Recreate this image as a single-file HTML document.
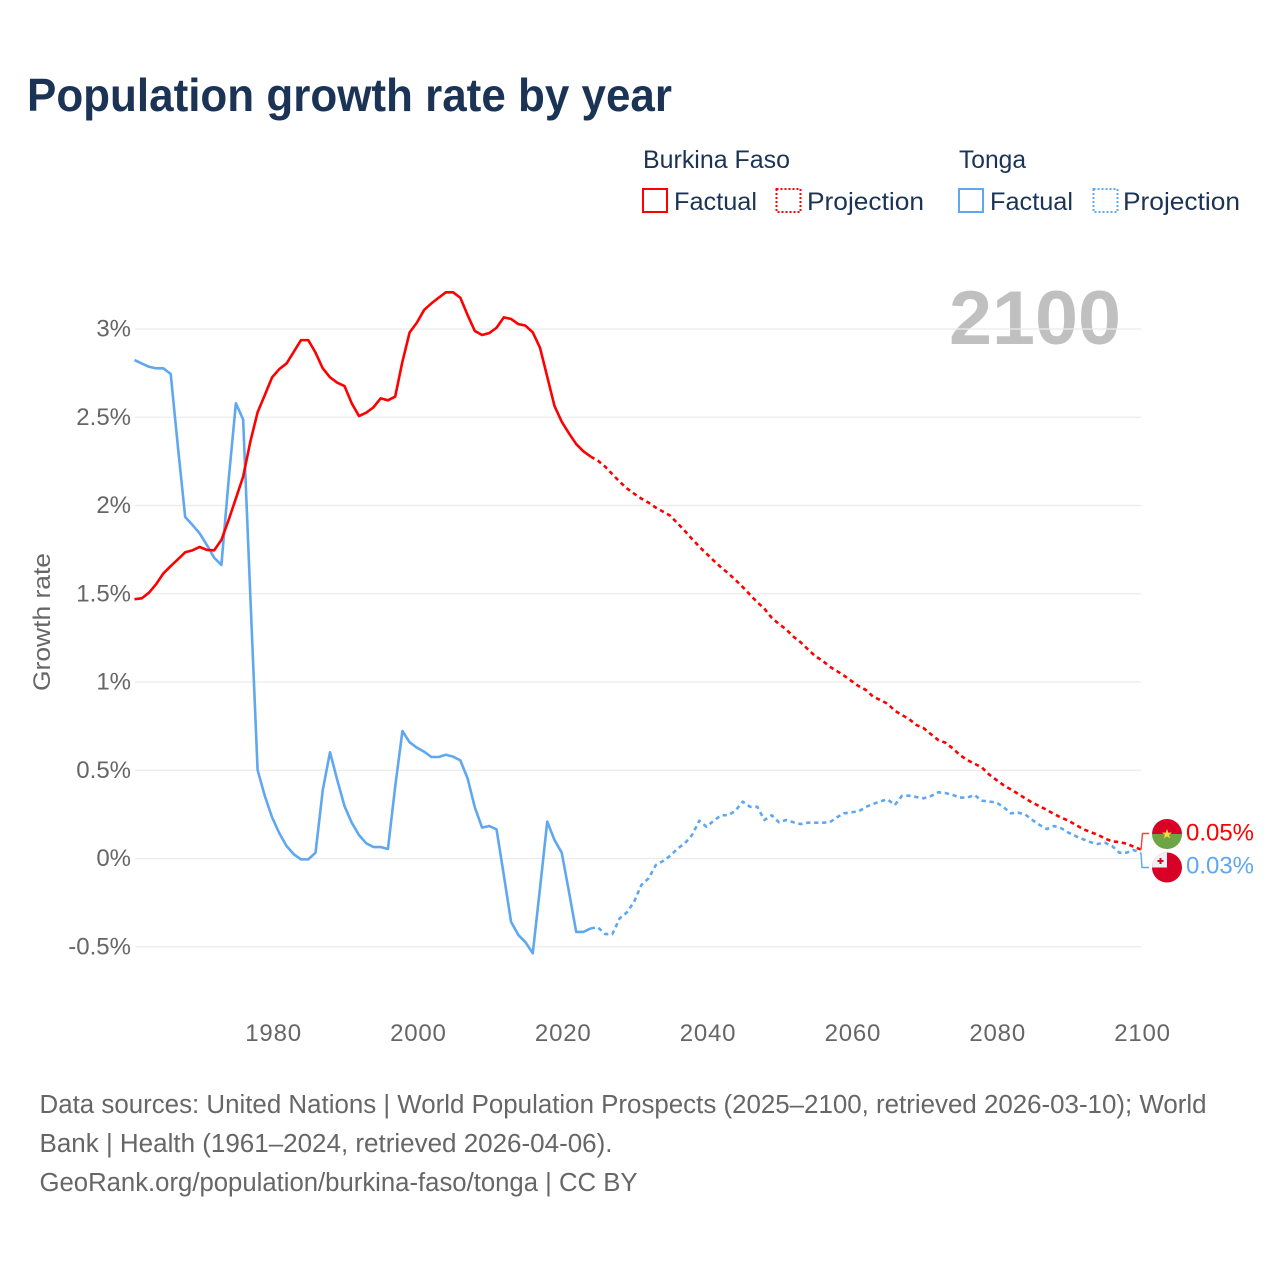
<!DOCTYPE html>
<html lang="en">
<head>
<meta charset="utf-8">
<title>Population growth rate by year</title>
<style>
html,body{margin:0;padding:0;background:#fff;width:1280px;height:1280px;overflow:hidden}
svg{display:block}
text{font-family:"Liberation Sans",sans-serif}
.tick{font-size:24px;fill:#666}
.legend{font-size:25px;fill:#1b3354}
.foot{font-size:25.5px;fill:#666}
</style>
</head>
<body>
<svg id="chart" width="1280" height="1280" viewBox="0 0 1280 1280" xmlns="http://www.w3.org/2000/svg">
  <text x="27" y="111" font-size="46" font-weight="bold" fill="#1b3354" textLength="645" lengthAdjust="spacingAndGlyphs">Population growth rate by year</text>

  <g>
    <text class="legend" x="643" y="168" textLength="147" lengthAdjust="spacingAndGlyphs">Burkina Faso</text>
    <text class="legend" x="959" y="168" textLength="67" lengthAdjust="spacingAndGlyphs">Tonga</text>
    <rect x="643" y="189" width="24" height="23" fill="none" stroke="#ff0000" stroke-width="2"/>
    <text class="legend" x="674" y="210" textLength="83" lengthAdjust="spacingAndGlyphs">Factual</text>
    <rect x="776.5" y="189" width="24" height="23" fill="none" stroke="#ff0000" stroke-width="2" stroke-dasharray="2 2"/>
    <text class="legend" x="807" y="210" textLength="117" lengthAdjust="spacingAndGlyphs">Projection</text>
    <rect x="959" y="189" width="24" height="23" fill="none" stroke="#5fa8ef" stroke-width="2"/>
    <text class="legend" x="990" y="210" textLength="83" lengthAdjust="spacingAndGlyphs">Factual</text>
    <rect x="1093.5" y="189" width="24" height="23" fill="none" stroke="#5fa8ef" stroke-width="2" stroke-dasharray="2 2"/>
    <text class="legend" x="1123" y="210" textLength="117" lengthAdjust="spacingAndGlyphs">Projection</text>
  </g>

  <text x="949" y="344" font-size="76" font-weight="bold" fill="#c0c0c0" textLength="172" lengthAdjust="spacingAndGlyphs">2100</text>

  <g id="grid"></g>
  <g id="yticks"></g>
  <g id="xticks"></g>
  <g id="series"></g>
  <g id="ends"></g>

  <text class="tick" transform="translate(50,622) rotate(-90)" text-anchor="middle" textLength="138" lengthAdjust="spacingAndGlyphs">Growth rate</text>

  <g>
    <text class="foot" x="39.5" y="1113" textLength="1167" lengthAdjust="spacingAndGlyphs">Data sources: United Nations | World Population Prospects (2025–2100, retrieved 2026-03-10); World</text>
    <text class="foot" x="39.5" y="1152" textLength="573" lengthAdjust="spacingAndGlyphs">Bank | Health (1961–2024, retrieved 2026-04-06).</text>
    <text class="foot" x="39.5" y="1191" textLength="598" lengthAdjust="spacingAndGlyphs">GeoRank.org/population/burkina-faso/tonga | CC BY</text>
  </g>
</svg>
<script>
const xTickYears = [1980, 2000, 2020, 2040, 2060, 2080, 2100];
const yTickValues = [-0.5, 0, 0.5, 1, 1.5, 2, 2.5, 3];
const yTickLabels = ["-0.5%", "0%", "0.5%", "1%", "1.5%", "2%", "2.5%", "3%"];
const factualStartYear = 1961;
const projectionStartYear = 2024;

const burkinaFactual = [
1.469,1.474,1.506,1.555,1.616,1.657,1.695,1.735,1.746,1.765,
1.748,1.746,1.805,1.918,2.04,2.163,2.362,2.528,2.626,2.726,
2.773,2.805,2.871,2.937,2.937,2.866,2.777,2.726,2.696,2.677,
2.579,2.507,2.526,2.556,2.607,2.596,2.617,2.815,2.981,3.036,
3.108,3.145,3.177,3.208,3.208,3.177,3.079,2.989,2.966,2.977,
3.007,3.066,3.057,3.028,3.019,2.981,2.894,2.73,2.564,2.475,
2.409,2.348,2.307,2.277];

const burkinaProjection = [
2.277,2.254,2.22,2.177,2.135,2.097,2.067,2.039,2.016,1.988,1.965,
1.942,1.899,1.856,1.81,1.767,1.727,1.687,1.65,1.616,1.578,
1.538,1.495,1.452,1.415,1.364,1.329,1.298,1.257,1.225,1.185,
1.147,1.121,1.087,1.062,1.036,1.006,0.977,0.955,0.917,0.898,
0.877,0.837,0.813,0.789,0.756,0.738,0.704,0.671,0.656,0.624,
0.586,0.558,0.537,0.517,0.477,0.446,0.416,0.392,0.367,0.341,
0.316,0.296,0.275,0.252,0.231,0.214,0.19,0.167,0.15,0.135,
0.114,0.097,0.093,0.084,0.067,0.05];

const tongaFactual = [
2.824,2.805,2.786,2.777,2.777,2.745,2.33,1.935,1.89,1.842,
1.776,1.704,1.663,2.144,2.579,2.488,1.483,0.501,0.354,0.233,
0.143,0.071,0.024,-0.005,-0.005,0.033,0.388,0.602,0.445,0.297,
0.203,0.133,0.086,0.065,0.065,0.054,0.407,0.722,0.658,0.628,
0.605,0.575,0.575,0.588,0.577,0.556,0.454,0.29,0.175,0.184,
0.165,-0.093,-0.358,-0.433,-0.475,-0.537,-0.169,0.209,0.105,0.033,
-0.188,-0.416,-0.416,-0.396];

const tongaProjection = [
-0.396,-0.39,-0.428,-0.428,-0.339,-0.305,-0.245,-0.15,-0.112,-0.037,-0.014,
0.016,0.056,0.086,0.133,0.214,0.18,0.214,0.245,0.245,0.271,
0.322,0.293,0.293,0.218,0.245,0.205,0.218,0.205,0.195,0.203,
0.203,0.203,0.205,0.233,0.256,0.262,0.267,0.292,0.309,0.324,
0.335,0.303,0.356,0.356,0.348,0.341,0.354,0.375,0.371,0.36,
0.345,0.345,0.36,0.328,0.322,0.318,0.292,0.256,0.26,0.25,
0.218,0.19,0.167,0.184,0.171,0.146,0.126,0.109,0.093,0.082,
0.09,0.071,0.033,0.033,0.048,0.03];

const NS = "http://www.w3.org/2000/svg";
const RED = "#ff0000";
const BLUE = "#5fa8ef";
function xScale(year){ return 134.5 + (year - 1961) * (1141 - 134.5) / (2100 - 1961); }
function yScale(v){ return 858.5 - v * 176.5; }
function make(tag, attrs){
  const el = document.createElementNS(NS, tag);
  for (const k in attrs) el.setAttribute(k, attrs[k]);
  return el;
}
function linePath(values, startYear){
  return values.map(function(v, i){
    return (i ? "L" : "M") + xScale(startYear + i).toFixed(2) + " " + yScale(v).toFixed(2);
  }).join("");
}

const grid = document.getElementById("grid");
const yticks = document.getElementById("yticks");
yTickValues.forEach(function(v, i){
  const line = make("line", {x1: 135, x2: 1141, y1: yScale(v), y2: yScale(v), stroke: "#ebebeb", "stroke-width": 1.2});
  
  
  grid.appendChild(line);
  const t = make("text", {x: 131, y: yScale(v) + 7.5, "text-anchor": "end", class: "tick"});
  
  
  t.textContent = yTickLabels[i];
  yticks.appendChild(t);
});

const xticks = document.getElementById("xticks");
xTickYears.forEach(function(year){
  const t = make("text", {x: xScale(year) + 1.5, y: 1041, "text-anchor": "middle", class: "tick", "letter-spacing": "0.8"});
  
  
  t.textContent = year;
  xticks.appendChild(t);
});

const seriesGroup = document.getElementById("series");
function addLine(values, startYear, color, dashed, name){
  const p = make("path", {d: linePath(values, startYear), fill: "none", stroke: color, "stroke-width": 2.6, "stroke-linejoin": "round"});
  if (dashed) p.setAttribute("stroke-dasharray", "4.3 3.7");
  
  
  seriesGroup.appendChild(p);
}
addLine(tongaFactual, factualStartYear, BLUE, false, "tonga-factual-line");
addLine(tongaProjection, projectionStartYear, BLUE, true, "tonga-projection-line");
addLine(burkinaFactual, factualStartYear, RED, false, "burkina-faso-factual-line");
addLine(burkinaProjection, projectionStartYear, RED, true, "burkina-faso-projection-line");

const ends = document.getElementById("ends");
const lastRed = yScale(burkinaProjection[burkinaProjection.length - 1]);
const lastBlue = yScale(tongaProjection[tongaProjection.length - 1]);
const redLead = make("path", {d: "M1141 " + lastRed + "L1142.5 833.5H1149", fill: "none", stroke: "#ff3b3b", "stroke-width": 1.4});


ends.appendChild(redLead);
const blueLead = make("path", {d: "M1141 " + lastBlue + "L1142 867.5H1149", fill: "none", stroke: BLUE, "stroke-width": 1.4});


ends.appendChild(blueLead);
</script>
<svg width="0" height="0" style="position:absolute">
  <defs>
    <clipPath id="bfClip"><circle cx="1167" cy="834" r="15"/></clipPath>
    <clipPath id="toClip"><circle cx="1167" cy="867.5" r="15"/></clipPath>
  </defs>
</svg>
<svg width="1280" height="1280" viewBox="0 0 1280 1280" style="position:absolute;left:0;top:0">
  <g clip-path="url(#bfClip)">
    <rect x="1150" y="817" width="34" height="17" fill="#d80027"/>
    <rect x="1150" y="834" width="34" height="17" fill="#6da544"/>
    <polygon points="1167,829 1168.3,832.6 1172,832.6 1169,834.9 1170.1,838.5 1167,836.3 1163.9,838.5 1165,834.9 1162,832.6 1165.7,832.6" fill="#ffda44"/>
  </g>
  <g clip-path="url(#toClip)">
    <rect x="1150" y="850" width="34" height="35" fill="#d80027"/>
    <rect x="1150" y="850" width="17" height="17.5" fill="#f0f0f0"/>
    <rect x="1159.5" y="858" width="2" height="6" fill="#d80027"/>
    <rect x="1157.5" y="860" width="6" height="2" fill="#d80027"/>
  </g>
  <text x="1186" y="840.5" font-size="24.5" fill="#ff0000" textLength="68" lengthAdjust="spacingAndGlyphs">0.05%</text>
  <text x="1186" y="873.5" font-size="24.5" fill="#5fa8ef" textLength="68" lengthAdjust="spacingAndGlyphs">0.03%</text>
</svg>
</body>
</html>
